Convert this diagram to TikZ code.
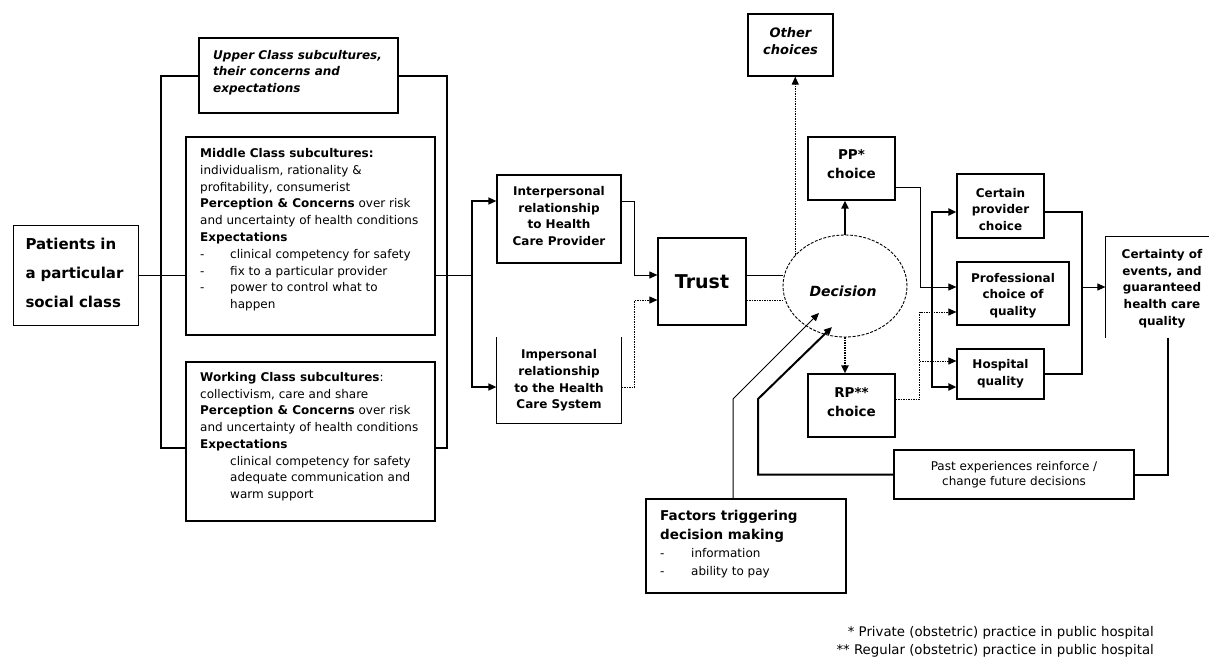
\documentclass[tikz,border=0pt]{standalone}
\usepackage{fontspec}
\setmainfont{DejaVu Sans}
\usetikzlibrary{arrows.meta,shapes.geometric}

\begin{document}
\begin{tikzpicture}[x=1pt,y=-1pt,
  frame/.style={draw, line width=1.2pt, inner sep=0pt, align=center,
    font=\fontsize{12}{16.7}\selectfont\bfseries},
  caption/.style={inner sep=0pt, align=center, font=\fontsize{12}{16.7}\selectfont\bfseries},
  bodytext/.style={anchor=base west, inner sep=0pt, align=left,
    font=\fontsize{12}{16.8}\selectfont},
  conn/.style={line width=1pt},
  midline/.style={line width=1.5pt},
  heavy/.style={line width=2pt},
  dotc/.style={line width=1pt, dash pattern=on 1.5pt off 1pt},
  dotheavy/.style={line width=2pt, dash pattern=on 1.5pt off 1pt},
  arrowed/.style={-{Triangle[length=8pt,width=7pt]}},
  twoarrowed/.style={{Triangle[length=8pt,width=7pt]}-{Triangle[length=8pt,width=7pt]}}
]
\useasboundingbox (0,0) rectangle (1209,662);
\fill[white] (0,0) rectangle (1209,662);

% ---------- social class column ----------
% (multi-line text nodes are anchored at the baseline of their last line)
\node[frame, line width=1pt, minimum width=125pt, minimum height=100pt] (pat) at (75.5,275) {};
\node[caption, text width=100pt, align=left, font=\fontsize{15}{29}\selectfont\bfseries]
  (pattext) at (75.5,273) {Patients in\\a particular\\social class};

\node[frame, minimum width=199pt, minimum height=75pt] (upper) at (298.5,75.5) {};
\node[bodytext, font=\fontsize{12}{16.5}\selectfont\bfseries\itshape] (uppertext) at (213,92)
  {Upper Class subcultures,\\their concerns and\\expectations};

\node[frame, line width=2pt, minimum width=249pt, minimum height=198pt] (mid) at (310.5,236) {};
\node[bodytext] (midtext) at (200,308.7)
  {\textbf{Middle Class subcultures:}\\
   individualism, rationality \&\\
   profitability, consumerist\\
   \textbf{Perception \& Concerns} over risk\\
   and uncertainty of health conditions\\
   \textbf{Expectations}\\
   \makebox[30pt][l]{-}clinical competency for safety\\
   \makebox[30pt][l]{-}fix to a particular provider\\
   \makebox[30pt][l]{-}power to control what to\\
   \hspace*{30pt}happen};

\node[frame, line width=1.5pt, minimum width=249pt, minimum height=159pt] (work) at (310.5,441.5) {};
\node[bodytext, font=\fontsize{12}{16.7}\selectfont] (worktext) at (200,498.4)
  {\textbf{Working Class subcultures}:\\
   collectivism, care and share\\
   \textbf{Perception \& Concerns} over risk\\
   and uncertainty of health conditions\\
   \textbf{Expectations}\\
   \hspace*{30pt}clinical competency for safety\\
   \hspace*{30pt}adequate communication and\\
   \hspace*{30pt}warm support};

% bracket holding the three class boxes
\coordinate (bl) at (161,448);
\coordinate (br) at (447,448);
\draw[heavy] (upper.west) -| (bl) -- (bl -| work.west);
\draw[heavy] (upper.east) -| (br) -- (br -| work.east);

\draw[conn] (pat.east) -- (pat.east -| mid.west);

% ---------- relationships and trust ----------
\node[frame, minimum width=124pt, minimum height=88pt] (inter) at (559,219) {};
\node[caption] (intertext) at (559,216)
  {Interpersonal\\relationship\\to Health\\Care Provider};
\node[frame, draw=none, minimum width=124pt, minimum height=85pt] (imp) at (559,380.5)
  {Impersonal\\relationship\\to the Health\\Care System};
\draw[line width=1.2pt] (imp.north west) -- (imp.south west) -- (imp.south east) -- (imp.north east);

\node[frame, minimum width=88pt, minimum height=87pt, font=\fontsize{19}{22}\selectfont\bfseries]
  (trust) at (702,281.5) {Trust};

\coordinate (split) at (472,275);
\draw[conn] (mid.east |- split) -- (split);
\draw[midline, arrowed] (split) |- ([yshift=18pt]inter.west);
\draw[midline, arrowed] (split) |- ([yshift=-6.5pt]imp.west);
\draw[conn, arrowed] ([yshift=18pt]inter.east) -- ++(13,0) |- ([yshift=6.5pt]trust.west);
\draw[dotc, arrowed] ([yshift=-6.5pt]imp.east) -- ++(13,0) |- ([yshift=-18.5pt]trust.west);

% ---------- decision ----------
\node[draw, ellipse, dash pattern=on 3pt off 1.5pt, line width=0.9pt, inner sep=0pt,
      minimum width=124pt, minimum height=102pt] (dec) at (845,286) {};
\node[inner sep=0pt, font=\fontsize{14}{16}\selectfont\bfseries\itshape] (dectext) at (843,291) {Decision};

\draw[conn] ([yshift=6.5pt]trust.east) -- ([yshift=6.5pt]trust.east -| dec.west);
\draw[dotc] ([yshift=-18.5pt]trust.east) -- ([yshift=-18.5pt]trust.east -| dec.west);

\node[frame, minimum width=85pt, minimum height=62pt] (other) at (790.5,45) {};
\node[caption, font=\fontsize{13}{17}\selectfont\bfseries\itshape] (othertext) at (790.5,41) {Other\\choices};
\node[frame, minimum width=87pt, minimum height=63pt] (pp) at (851.5,168.5) {};
\node[caption, font=\fontsize{13.5}{19}\selectfont\bfseries] (pptext) at (851.5,164.5) {PP*\\choice};
\node[frame, minimum width=87pt, minimum height=63pt] (rp) at (851.5,405.5) {};
\node[caption, font=\fontsize{13.5}{19}\selectfont\bfseries] (rptext) at (851.5,402) {RP**\\choice};

\draw[dotc, arrowed] (dec.148) -- (dec.148 |- other.south);
\draw[heavy, arrowed] (dec.north) -- (dec.north |- pp.south);
\draw[dotheavy, arrowed] (dec.south) -- (dec.south |- rp.north);

% ---------- quality outcomes ----------
\node[frame, minimum width=87pt, minimum height=64pt] (certain) at (1000.5,206) {};
\node[caption] (certaintext) at (1000.5,209.5) {Certain\\provider\\choice};
\node[frame, minimum width=112pt, minimum height=63pt] (prof) at (1013,293.5) {};
\node[caption] (proftext) at (1013,295.5) {Professional\\choice of\\quality};
\node[frame, minimum width=87pt, minimum height=50pt] (hosp) at (1000.5,374)
  {Hospital\\quality};
\node[frame, draw=none, minimum width=112pt, minimum height=100pt] (cert) at (1162,287) {};
\node[caption] (certtext) at (1162,288.5)
  {Certainty of\\events, and\\guaranteed\\health care\\quality};
\draw[line width=1.2pt] (cert.south west) -- (cert.north west) -- (cert.north east);

\draw[conn, arrowed] ([yshift=-18.5pt]pp.east) -- ++(25,0) |- ([yshift=6.5pt]prof.west);
\coordinate (hospIn) at ([yshift=13pt]hosp.west);
\draw[dotc, arrowed] ([yshift=6.5pt]rp.east) -- ++(24,0) coordinate (rpj) |- ([yshift=-18.5pt]prof.west);
\draw[dotc, arrowed] (rpj |- hospIn) -- (hospIn);

\draw[heavy, twoarrowed] ([yshift=-6pt]certain.west) -- ++(-24,0) |- ([yshift=-13pt]hosp.west);
\draw[heavy] ([yshift=-6pt]certain.east) -- ++(37,0) coordinate (colx) |- (hosp.east);
\draw[conn, arrowed] (colx |- cert.west) -- (cert.west);

% ---------- feedback and triggers ----------
\node[frame, line width=1.7pt, minimum width=240pt, minimum height=49pt,
      font=\fontsize{12}{15}\selectfont] (past) at (1014,474.5)
  {Past experiences reinforce /\\change future decisions};
\node[frame, minimum width=200pt, minimum height=94pt] (fac) at (746,546) {};
\node[bodytext, font=\fontsize{13.5}{19}\selectfont\bfseries] (factext) at (660,539.5)
  {Factors triggering\\decision making};
\node[bodytext, font=\fontsize{12}{18}\selectfont] (facitems) at (660,575)
  {\makebox[31pt][l]{-}information\\\makebox[31pt][l]{-}ability to pay};

\coordinate (kinkA) at (733,399);
\coordinate (tipA) at (819,313);
\coordinate (kinkB) at (758,399);
\coordinate (tipB) at (832,327);

\draw[conn, arrowed] ([xshift=-13pt]fac.north) -- (kinkA) -- (tipA);
\draw[heavy] ([xshift=6pt]cert.south) |- (past.east);
\draw[heavy, arrowed] (past.west) -| (kinkB) -- (tipB);

% ---------- footnotes ----------
\node[anchor=base east, inner sep=0pt, align=right, font=\fontsize{13.3}{18}\selectfont] (notes) at (1154,654)
  {* Private (obstetric) practice in public hospital\\** Regular (obstetric) practice in public hospital};

\end{tikzpicture}
\end{document}
